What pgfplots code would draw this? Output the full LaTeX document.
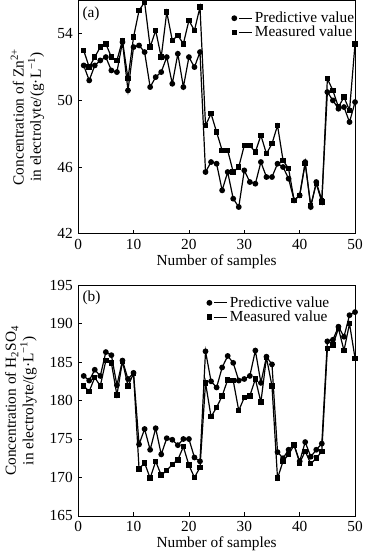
\documentclass[border=0pt]{standalone}
\usepackage{fontspec}
\setmainfont{Liberation Serif}
\usepackage{pgfplots}
\pgfplotsset{compat=1.18}
\begin{document}
\fontsize{11.5}{13}\selectfont
\begin{tikzpicture}
\pgfplotsset{
  common/.style={
    scale only axis,
    width=207.5pt,
    xmin=0, xmax=50,
    xtick={0,10,20,30,40,50},
    tick align=inside,
    xtick pos=bottom, ytick pos=left,
    major tick length=3pt,
    tick style={black, line width=0.5pt},
    axis line style={black, line width=0.6pt},
    /pgf/number format/assume math mode=true,
    /pgf/number format/1000 sep={},
    font=\fontsize{11.5}{13}\selectfont,
    tick label style={font=\fontsize{11.5}{13}\selectfont},
    xlabel={Number of samples},
    xlabel style={yshift=4pt},
    ylabel style={align=center, yshift=2pt},
    legend style={draw=none, fill=none, anchor=north west,
      font=\fontsize{11.5}{13}\selectfont, row sep=-3pt, inner sep=1pt},
    legend cell align=left,
    legend image code/.code={
      \draw[#1,mark=none,line width=0.8pt] (3.5pt,0pt) -- (13pt,0pt);
      \draw[#1,only marks] plot coordinates {(0pt,0pt)};
    },
  },
  pred/.style={black, line width=0.9pt, mark=*, mark size=1.7pt, mark options={solid}},
  meas/.style={black, line width=0.9pt, mark=square*, mark size=1.6pt, mark options={solid}},
}
\begin{axis}[common, at={(0,211.5pt)}, height=174.75pt,
  ymin=42, ymax=56, ytick={42,46,50,54},
  ylabel={Concentration of Zn\textsuperscript{2+}\\in electrolyte/(g·L\textsuperscript{−1})},
  legend style={at={(rel axis cs:0.55,0.97)}}]
\addplot[pred] coordinates {
(1,52.1)(2,51.2)(3,52.1)(4,52.4)(5,52.6)(6,51.8)(7,51.7)(8,53.5)(9,50.6)(10,53.2)
(11,53.3)(12,52.9)(13,50.8)(14,51.4)(15,51.7)(16,52.6)(17,51.0)(18,52.8)(19,50.8)(20,52.6)
(21,52.0)(22,52.9)(23,45.7)(24,46.3)(25,46.2)(26,44.6)(27,45.7)(28,44.1)(29,43.6)(30,45.8)
(31,45.1)(32,45.0)(33,46.3)(34,45.4)(35,45.4)(36,46.2)(37,46.0)(38,45.3)(39,44.0)(40,44.3)
(41,46.3)(42,43.6)(43,45.1)(44,44.0)(45,50.5)(46,50.0)(47,49.5)(48,49.6)(49,48.7)(50,49.9)
};
\addlegendentry{Predictive value}
\addplot[meas] coordinates {
(1,53.0)(2,52.0)(3,52.6)(4,53.2)(5,53.4)(6,52.6)(7,52.4)(8,53.6)(9,51.3)(10,53.8)
(11,55.4)(12,55.9)(13,53.2)(14,54.2)(15,52.6)(16,55.3)(17,53.6)(18,53.9)(19,53.4)(20,54.8)
(21,54.2)(22,55.6)(23,48.5)(24,49.2)(25,48.1)(26,47.0)(27,47.0)(28,45.7)(29,46.0)(30,47.3)
(31,47.3)(32,46.9)(33,47.9)(34,46.8)(35,47.4)(36,48.5)(37,46.4)(38,45.9)(39,44.0)(40,44.3)
(41,46.2)(42,43.7)(43,45.0)(44,43.9)(45,51.3)(46,50.6)(47,49.6)(48,50.2)(49,49.4)(50,53.4)
};
\addlegendentry{Measured value}
\node[anchor=north west, inner sep=0pt] at (rel axis cs:0.015,0.975) {(a)};
\end{axis}
\begin{axis}[common, at={(0,0)}, height=172.9pt,
  ymin=165, ymax=195, ytick={165,170,175,180,185,190,195},
  ylabel={Concentration of H\textsubscript{2}SO\textsubscript{4}\\in electrolyte/(g·L\textsuperscript{−1})},
  legend style={at={(rel axis cs:0.46,0.97)}}]
\addplot[pred] coordinates {
(1,183.2)(2,182.6)(3,184.0)(4,183.2)(5,186.3)(6,185.9)(7,182.0)(8,185.2)(9,182.8)(10,183.6)
(11,174.3)(12,176.3)(13,173.6)(14,176.4)(15,173.0)(16,175.1)(17,174.9)(18,174.2)(19,175.0)(20,175.0)
(21,172.6)(22,172.1)(23,186.4)(24,182.5)(25,181.7)(26,184.3)(27,185.8)(28,184.9)(29,182.6)(30,182.8)
(31,183.2)(32,186.5)(33,182.3)(34,185.7)(35,184.7)(36,173.3)(37,172.5)(38,173.6)(39,174.2)(40,172.1)
(41,174.6)(42,172.7)(43,173.6)(44,174.4)(45,187.7)(46,187.9)(47,189.6)(48,188.3)(49,191.1)(50,191.5)
};
\addlegendentry{Predictive value}
\addplot[meas] coordinates {
(1,181.9)(2,181.2)(3,183.0)(4,181.9)(5,185.2)(6,184.9)(7,180.7)(8,185.1)(9,181.9)(10,183.5)
(11,171.1)(12,171.9)(13,169.9)(14,172.1)(15,170.3)(16,170.9)(17,171.7)(18,172.3)(19,174.0)(20,171.6)
(21,170.0)(22,171.3)(23,182.3)(24,177.9)(25,179.1)(26,180.6)(27,182.7)(28,182.6)(29,178.7)(30,180.4)
(31,180.6)(32,182.8)(33,179.8)(34,185.6)(35,181.9)(36,169.9)(37,172.1)(38,173.0)(39,174.2)(40,171.9)
(41,173.4)(42,171.8)(43,172.5)(44,173.4)(45,186.8)(46,187.2)(47,189.4)(48,186.5)(49,190.0)(50,185.5)
};
\addlegendentry{Measured value}
\node[anchor=north west, inner sep=0pt] at (rel axis cs:0.015,0.975) {(b)};
\end{axis}
\end{tikzpicture}
\end{document}
